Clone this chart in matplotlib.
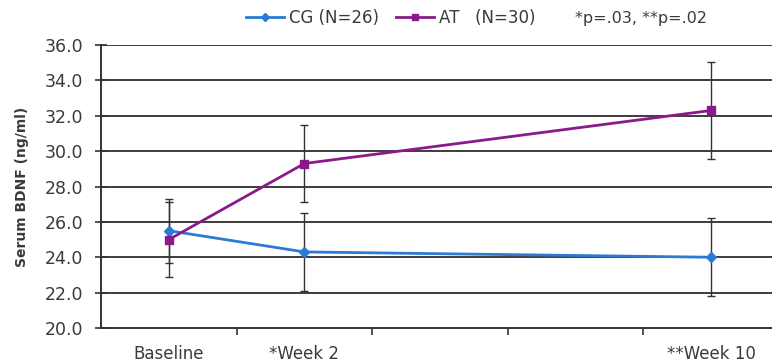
import matplotlib
matplotlib.use("Agg")
import matplotlib.pyplot as plt
from matplotlib.lines import Line2D

plt.rcParams['font.family'] = ['DejaVu Sans']

categories = ["Baseline", "*Week 2", "", "", "**Week 10"]
cg_idx = [0, 1, 4]
cg_mean = [25.5, 24.3, 24.0]
cg_err = [1.8, 2.2, 2.2]
at_idx = [0, 1, 4]
at_mean = [25.0, 29.3, 32.3]
at_err = [2.1, 2.2, 2.75]
yticks = [20, 22, 24, 26, 28, 30, 32, 34, 36]

cg_color = '#2b7bd4'
at_color = '#8a1a8c'
txt = '#3a3a3a'

fig = plt.figure(figsize=(7.72, 3.64), dpi=100)
ax = fig.add_axes([101/772, 1-328/364, 678/772, (328-45)/364])

for y in yticks[1:]:
    ax.axhline(y, color='#3c3c3c', lw=1.4, zorder=1)

ax.errorbar(cg_idx, cg_mean, yerr=cg_err, fmt='none', ecolor='#333333',
            elinewidth=1.0, capsize=3, capthick=1.0, zorder=3)
ax.errorbar(at_idx, at_mean, yerr=at_err, fmt='none', ecolor='#333333',
            elinewidth=1.0, capsize=3, capthick=1.0, zorder=3)
ax.plot(cg_idx, cg_mean, color=cg_color, lw=2.0, marker='D', ms=5,
        mfc=cg_color, mec=cg_color, zorder=4)
ax.plot(at_idx, at_mean, color=at_color, lw=2.0, marker='s', ms=6,
        mfc=at_color, mec=at_color, zorder=4)

ax.set_xlim(-0.5, 4.5)
ax.set_ylim(20, 36)
ax.set_yticks(yticks)
ax.set_yticklabels([f"{v:.1f}" for v in yticks], fontsize=12.5, color=txt)
ax.set_xticks(range(len(categories)))
ax.set_xticklabels(categories, fontsize=12, color=txt)
ax.tick_params(axis='x', length=0, pad=12)
ax.set_xticks([0.5, 1.5, 2.5, 3.5], minor=True)
ax.tick_params(axis='x', which='minor', length=5, width=1.2, color='#333333', direction='out')
ax.tick_params(axis='y', length=8, width=1.2, color='#333333', direction='inout', pad=9)

for s in ['top', 'right']:
    ax.spines[s].set_visible(False)
ax.spines['left'].set_color('#333333')
ax.spines['left'].set_linewidth(1.4)
ax.spines['bottom'].set_color('#333333')
ax.spines['bottom'].set_linewidth(1.4)

ax.set_ylabel("Serum BDNF (ng/ml)", fontsize=10, fontweight='bold', color=txt, labelpad=11)

# legend
handles = [Line2D([], [], color=cg_color, lw=2, marker='D', ms=4),
           Line2D([], [], color=at_color, lw=2, marker='s', ms=4)]
leg = fig.legend(handles, ["CG (N=26)", "AT   (N=30)"], loc='center left',
                 bbox_to_anchor=(246/772, 1-18/364), ncol=2, frameon=False,
                 fontsize=12, handlelength=2.3, handletextpad=0.3, columnspacing=1.0,
                 borderaxespad=0, borderpad=0)
for t in leg.get_texts():
    t.set_color(txt)
fig.text(575/772, 1-18/364, "*p=.03, **p=.02", fontsize=11.5, color=txt, va='center', ha='left')

fig.savefig("out.png", dpi=100)
